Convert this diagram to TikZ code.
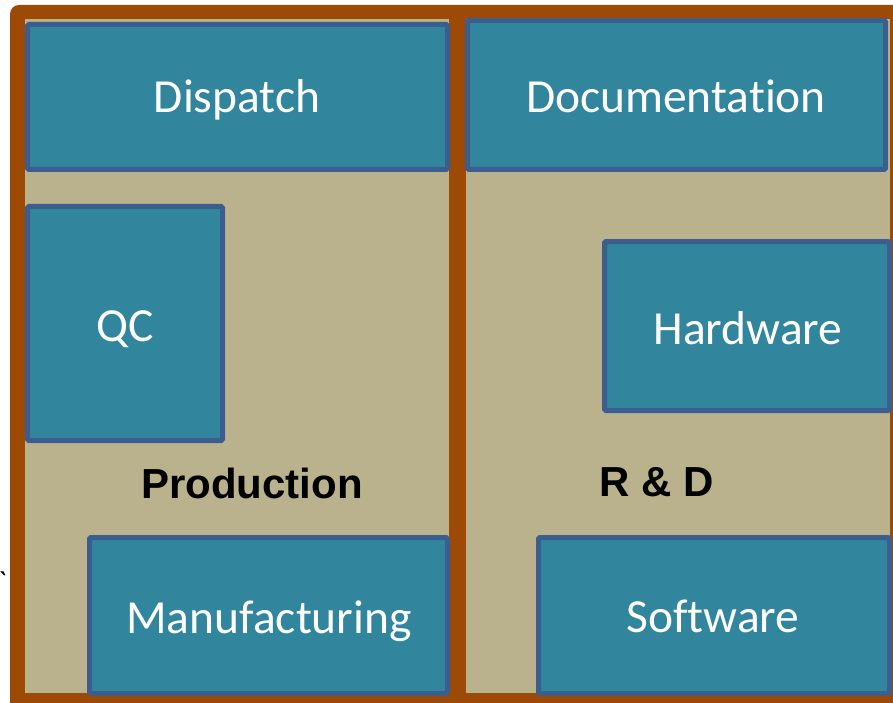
\documentclass[tikz,border=0pt]{standalone}
\usepackage{fontspec}
\setmainfont{Carlito}[Ligatures={NoCommon,NoRare}]
\newfontfamily\labfont{Liberation Sans}
\definecolor{frameC}{HTML}{9C4A06}
\definecolor{tanC}{HTML}{B9B28D}
\definecolor{boxC}{HTML}{31859C}
\definecolor{boxL}{HTML}{3C5E8F}
\begin{document}
\begin{tikzpicture}[x=1pt,y=-1pt,
  unit/.style={draw=boxL,fill=boxC,line width=5pt,rounded corners=1.5pt},
  boxtext/.style={text=white,font=\fontsize{47.5}{52}\selectfont,anchor=base,inner sep=0pt},
  grouptext/.style={text=black,font=\labfont\bfseries\fontsize{42}{46}\selectfont,anchor=base,inner sep=0pt}]
\useasboundingbox (0,0) rectangle (893,703);
% frame
\fill[frameC,rounded corners=9pt] (10,5) rectangle (905,715);
\fill[tanC] (25,19) rectangle (449,693);
\fill[tanC] (466,19) rectangle (890,693);
% boxes
\draw[unit] (27.5,24.5) rectangle (447.5,169.5);
\draw[unit] (467.5,20.5) rectangle (885.5,169.5);
\draw[unit] (27.5,206.5) rectangle (222.5,440.5);
\draw[unit] (604.5,241.5) rectangle (889.5,410.5);
\draw[unit] (89.5,537.5) rectangle (447.5,693.5);
\draw[unit] (538.5,537.5) rectangle (889.5,693.5);
% labels
\node[boxtext] (dispatch) at (237,113) {Dispatch};
\node[boxtext] (doc) at (676,113) {Documentation};
\node[boxtext] (qc) at (125,341) {QC};
\node[boxtext] (hw) at (748,344) {Hardware};
\node[boxtext] (mfg) at (269,633) {Manufacturing};
\node[boxtext] (sw) at (713,632) {Software};
\node[grouptext] (prod) at (252,498) {Production};
\node[grouptext] (rd) at (657,496) {R \& D};
\node[text=black,font=\labfont\fontsize{30}{32}\selectfont,inner sep=0pt] (stray) at (4,585) {\`{}};
\end{tikzpicture}
\end{document}
